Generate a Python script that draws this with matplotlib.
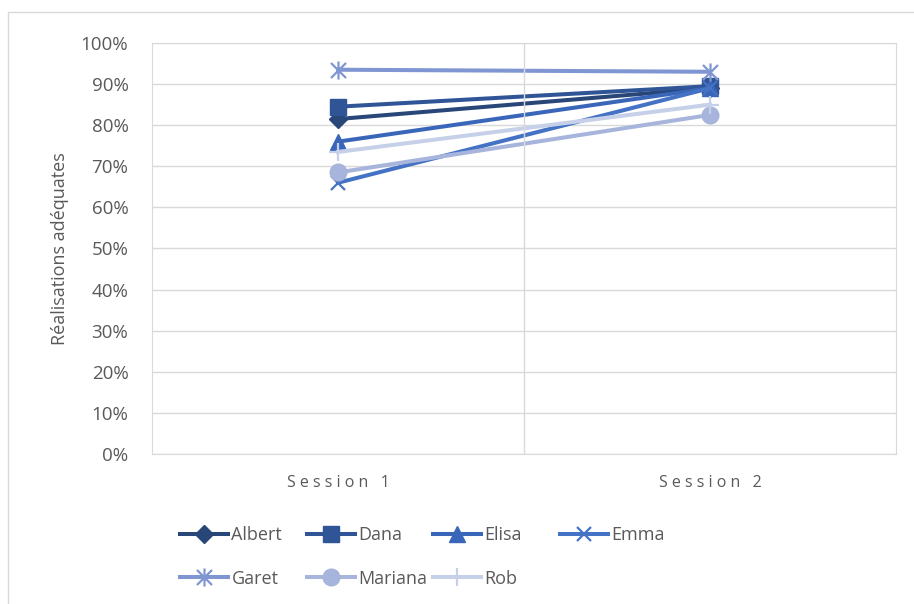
import matplotlib
matplotlib.use('Agg')
import matplotlib.pyplot as plt
from matplotlib.path import Path
from matplotlib.patches import Rectangle
import numpy as np

sessions = ["Session 1", "Session 2"]
names = ["Albert", "Dana", "Elisa", "Emma", "Garet", "Mariana", "Rob"]
albert = [81.5, 89.0]
dana = [84.5, 89.5]
elisa = [76.0, 89.0]
emma = [66.0, 89.0]
garet = [93.5, 93.0]
mariana = [68.5, 82.5]
rob = [73.5, 85.0]
series = [albert, dana, elisa, emma, garet, mariana, rob]

colors = ["#284677", "#2F5597", "#3A66BA", "#4472C4", "#7F96D2", "#A7B4DB", "#C7D0E9"]

# excel style star: an x with a vertical bar
star = Path([(-1, -1), (1, 1), (-1, 1), (1, -1), (0, -1.2), (0, 1.2)],
            [Path.MOVETO, Path.LINETO, Path.MOVETO, Path.LINETO, Path.MOVETO, Path.LINETO])
markers = ["D", "s", "^", "x", star, "o", "+"]
msizes = [9, 12, 11, 10, 13, 12, 13]

plt.rcParams['font.family'] = ['Open Sans', 'DejaVu Sans']
txt = "#595959"
grid = "#D9D9D9"

fig = plt.figure(figsize=(9.14, 6.04), dpi=100)
fig.patches.append(Rectangle((8/914, -0.1), 1.1, 1 - 12/604 + 0.1, transform=fig.transFigure,
                             fill=False, edgecolor=grid, lw=1))
ax = fig.add_axes([152/914, 1 - 454/604, (896-152)/914, (454-43)/604])

x = np.arange(len(sessions))
handles = []
for n, s, c, m, ms in zip(names, series, colors, markers, msizes):
    mew = 1.6 if m in ("x", "+") or m is star else 1
    h, = ax.plot(x, s, color=c, lw=2.9, marker=m, ms=ms, mec=c, mfc=c, mew=mew, label=n)
    handles.append(h)

ax.set_xlim(-0.5, 1.5)
ax.set_ylim(0, 100)
ax.set_yticks(np.arange(0, 101, 10))
ax.set_yticklabels([f"{v}%" for v in range(0, 101, 10)])
ax.set_xticks(x)
ax.set_xticklabels([" ".join(list(s)) for s in sessions])
ax.tick_params(axis='y', length=0, pad=17, labelsize=13.5, labelcolor=txt)
ax.tick_params(axis='x', length=0, pad=15, labelsize=11.5, labelcolor=txt)
ax.grid(axis='y', color=grid, lw=1)
ax.axvline(0.5, color=grid, lw=1)
ax.set_axisbelow(True)
for sp in ax.spines.values():
    sp.set_color(grid)
ax.set_ylabel("Réalisations adéquates", color=txt, fontsize=13)
ax.yaxis.set_label_coords(-0.112, 0.5)

# legend laid out like excel: equal columns, filled row by row
cols = [[0, 4], [1, 5], [2, 6], [3]]
col_x = [180, 307, 433, 560]
for idx, cx in zip(cols, col_x):
    fig.legend([handles[i] for i in idx], [names[i] for i in idx], loc='upper left',
               bbox_to_anchor=(cx/914, 1 - 526/604), frameon=False, borderpad=0,
               borderaxespad=0, fontsize=13, handlelength=2.65, handletextpad=0.2,
               labelspacing=1.42, labelcolor=txt)

plt.savefig("out.png", dpi=100)
plt.close()
